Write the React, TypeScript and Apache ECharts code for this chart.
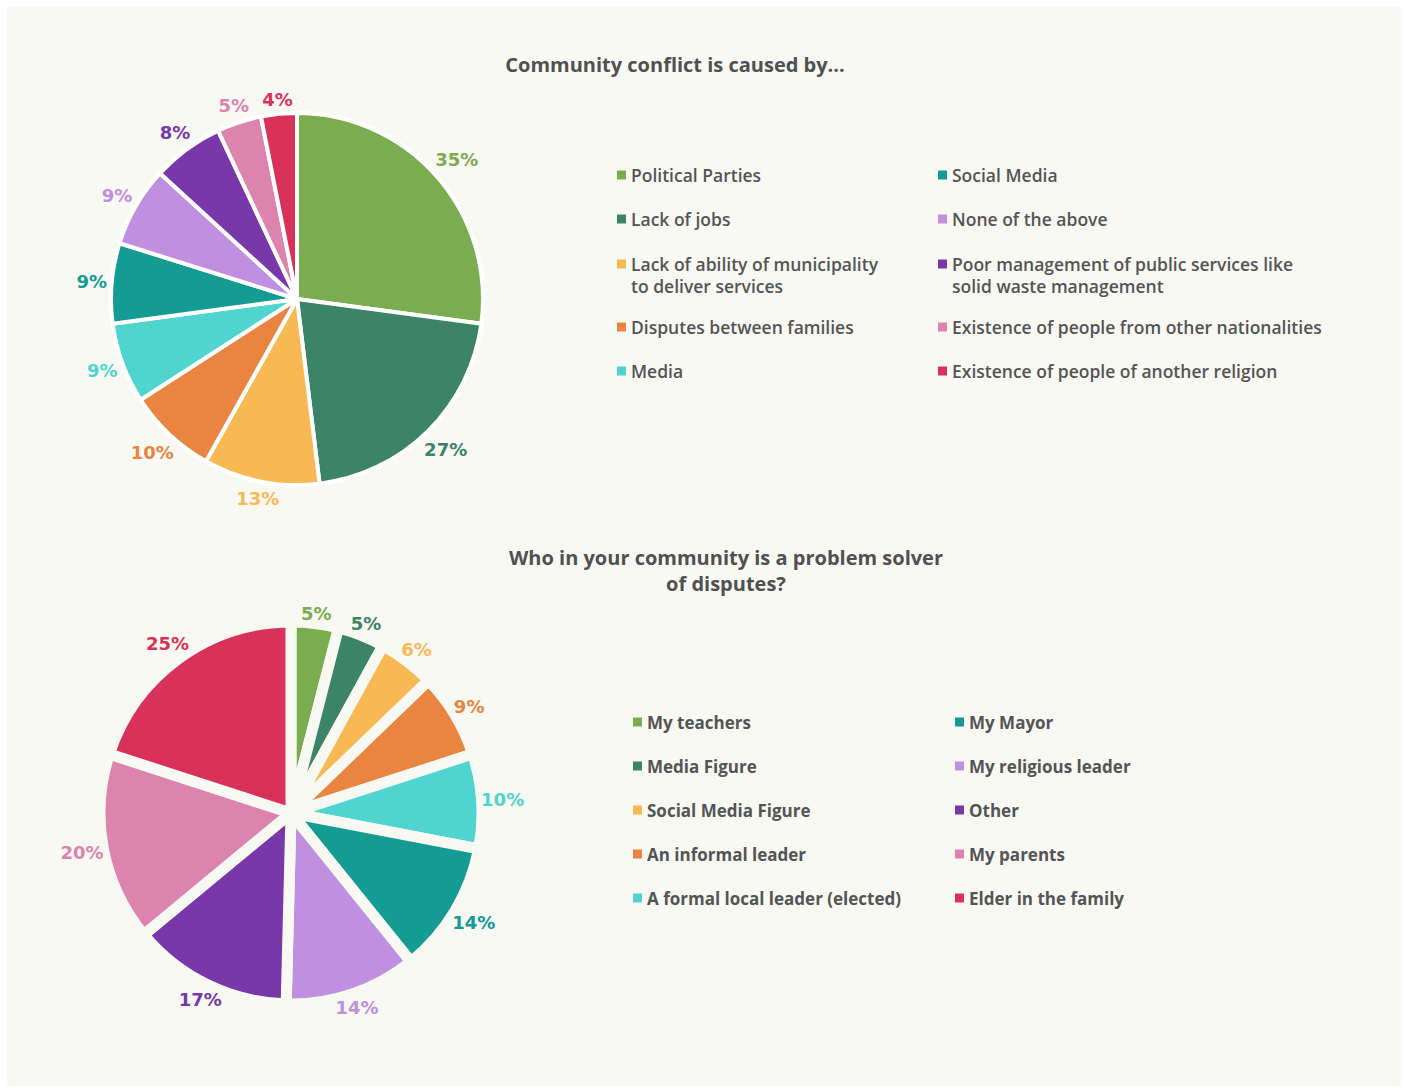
import React, { useEffect, useRef } from 'react';
import * as echarts from 'echarts';

const BG = '#f9f9f4';
const TEXT = '#545454';

const titleTop = 'Community conflict is caused by...';
const titleBottom = 'Who in your community is a problem solver\nof disputes?';

const causeNames = [
  'Political Parties',
  'Lack of jobs',
  'Lack of ability of municipality\nto deliver services',
  'Disputes between families',
  'Media',
  'Social Media',
  'None of the above',
  'Poor management of public services like\nsolid waste management',
  'Existence of people from other nationalities',
  'Existence of people of another religion',
];
const causeValues = [35, 27, 13, 10, 9, 9, 9, 8, 5, 4];

const solverNames = [
  'My teachers',
  'Media Figure',
  'Social Media Figure',
  'An informal leader',
  'A formal local leader (elected)',
  'My Mayor',
  'My religious leader',
  'Other',
  'My parents',
  'Elder in the family',
];
const solverValues = [5, 5, 6, 9, 10, 14, 14, 17, 20, 25];

const palette = [
  '#7aad4f',
  '#3b8467',
  '#f8b955',
  '#e98540',
  '#4fd4cf',
  '#149b93',
  '#c08fdf',
  '#7938a9',
  '#dd84ae',
  '#d8325a',
];

const TOP_C = [290, 292];
const TOP_R = 186;
const BOT_C = [284, 806];
const BOT_R = 191;

function labelLayoutFor(center: number[], base: number) {
  return (p: any) => {
    const r = p.labelRect;
    const midX = r.x + r.width / 2;
    const ax = midX < center[0] ? r.x + r.width : r.x;
    const ay = r.y + r.height / 2;
    let ux = ax - center[0];
    let uy = ay - center[1];
    const len = Math.hypot(ux, uy) || 1;
    ux /= len;
    uy /= len;
    const d = base + (r.width / 2) * Math.abs(ux) + (r.height / 2) * Math.abs(uy);
    return {
      x: center[0] + ux * d,
      y: center[1] + uy * d,
      align: 'center',
      verticalAlign: 'middle',
    };
  };
}

const topLegendText = {
  fontFamily: 'Open Sans',
  fontWeight: 600,
  fontSize: 17.5,
  color: TEXT,
  lineHeight: 22,
};

const bottomLegendText = {
  fontFamily: 'Open Sans',
  fontWeight: 700,
  fontSize: 17,
  color: TEXT,
  lineHeight: 22,
};

const legendBase = {
  orient: 'vertical',
  icon: 'rect',
  itemWidth: 9,
  itemHeight: 9,
  itemGap: 22,
  selectedMode: false,
  padding: 0,
  itemStyle: { borderWidth: 0 },
  textStyle: topLegendText,
};

// square on the first line of a two-line legend entry
const twoLineIcon = 'path://M0 0H9V9H0Z M0 31H9V31H0Z';

const labelStyle = {
  show: true,
  position: 'outside',
  formatter: '{c}%',
  fontFamily: 'DejaVu Sans',
  fontWeight: 'bold',
  fontSize: 18,
  distanceToLabelLine: 0,
};

function buildOption() {
  return {
    animation: false,
    backgroundColor: BG,
    graphic: [
      {
        type: 'text',
        x: 668,
        y: 57,
        style: {
          text: titleTop,
          fontFamily: 'Open Sans',
          fontWeight: 700,
          fontSize: 20,
          fill: '#505050',
          align: 'center',
          verticalAlign: 'middle',
        },
      },
      {
        type: 'text',
        x: 719,
        y: 563,
        style: {
          text: titleBottom,
          fontFamily: 'Open Sans',
          fontWeight: 700,
          fontSize: 20,
          lineHeight: 26,
          fill: '#505050',
          align: 'center',
          verticalAlign: 'middle',
        },
      },
    ],
    legend: [
      { ...legendBase, left: 610, top: 157, data: causeNames.slice(0, 2) },
      {
        ...legendBase,
        left: 610,
        top: 246,
        icon: twoLineIcon,
        itemHeight: 31,
        data: causeNames.slice(2, 3),
      },
      { ...legendBase, left: 610, top: 309, data: causeNames.slice(3, 5) },
      { ...legendBase, left: 931, top: 157, data: causeNames.slice(5, 7) },
      {
        ...legendBase,
        left: 931,
        top: 246,
        icon: twoLineIcon,
        itemHeight: 31,
        data: causeNames.slice(7, 8),
      },
      { ...legendBase, left: 931, top: 309, data: causeNames.slice(8, 10) },
      {
        ...legendBase,
        left: 626,
        top: 704,
        textStyle: bottomLegendText,
        data: solverNames.slice(0, 5),
      },
      {
        ...legendBase,
        left: 948,
        top: 704,
        textStyle: bottomLegendText,
        data: solverNames.slice(5, 10),
      },
    ],
    series: [
      {
        type: 'pie',
        center: TOP_C,
        radius: TOP_R,
        startAngle: 90,
        clockwise: true,
        avoidLabelOverlap: false,
        silent: true,
        itemStyle: { borderColor: '#ffffff', borderWidth: 4, borderJoin: 'round' },
        label: labelStyle,
        labelLine: { show: false, length: 10, length2: 0 },
        labelLayout: labelLayoutFor(TOP_C, 190),
        data: causeNames.map((n, i) => ({
          name: n,
          value: causeValues[i],
          itemStyle: { color: palette[i] },
          label: { color: palette[i] },
        })),
      },
      {
        type: 'pie',
        center: BOT_C,
        radius: BOT_R,
        startAngle: 90,
        clockwise: true,
        avoidLabelOverlap: false,
        silent: true,
        itemStyle: { borderColor: BG, borderWidth: 11, borderJoin: 'round' },
        label: labelStyle,
        labelLine: { show: false, length: 10, length2: 0 },
        labelLayout: labelLayoutFor(BOT_C, 190),
        data: solverNames.map((n, i) => ({
          name: n,
          value: solverValues[i],
          itemStyle: { color: palette[i] },
          label: { color: palette[i] },
        })),
      },
    ],
  };
}

export default function App() {
  const ref = useRef<HTMLDivElement>(null);
  useEffect(() => {
    if (!ref.current) return;
    const chart = echarts.init(ref.current, null, { renderer: 'svg' });
    chart.setOption(buildOption() as any);
    return () => chart.dispose();
  }, []);
  return (
    <div
      style={{
        position: 'fixed',
        left: 0,
        top: 0,
        width: 1404,
        height: 1088,
        background: '#ffffff',
      }}
    >
      <div
        ref={ref}
        style={{ position: 'absolute', left: 7, top: 7, width: 1394, height: 1079 }}
      />
    </div>
  );
}
